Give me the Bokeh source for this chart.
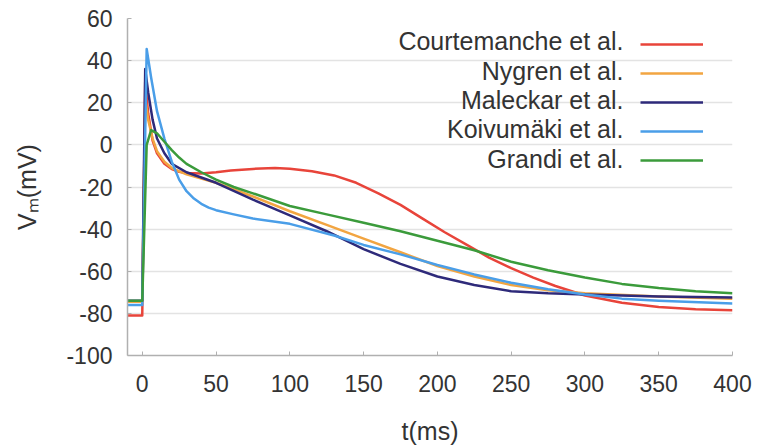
from bokeh.plotting import figure
from bokeh.models import Legend, LegendItem, Label, FixedTicker, Range1d, PrintfTickFormatter
from bokeh.embed import file_html
from bokeh.resources import INLINE

names = ["Courtemanche et al.", "Nygren et al.", "Maleckar et al.", "Koivumäki et al.", "Grandi et al."]
colors = ["#e8443a", "#f2a541", "#2e2a7a", "#4a9ee8", "#3b9b3b"]

t_court = [-10, 0, 2, 4, 7, 10, 15, 20, 25, 30, 40, 50, 60, 75, 90, 100, 115, 130, 145, 160, 175, 190, 205, 220, 235, 250, 265, 280, 300, 325, 350, 375, 400]
v_court = [-81, -81, 30, 15, 2, -4, -9, -11.5, -12.8, -13.4, -13.6, -13, -12.2, -11.4, -11, -11.3, -12.5, -14.5, -18, -23, -28.5, -35, -41.5, -47.5, -53.5, -58.5, -63, -67, -71.5, -75, -77, -78, -78.5]

t_nyg = [-10, 0, 2, 4, 7, 10, 15, 20, 30, 40, 50, 75, 100, 125, 150, 175, 200, 225, 250, 275, 300, 350, 400]
v_nyg = [-74.5, -74.5, 22, 12, 3, -3, -8, -11, -14, -16, -18, -24.5, -31.5, -38, -44.5, -51, -57.5, -62.5, -66.5, -69, -70.5, -72, -73]

t_mal = [-10, 0, 2, 4, 7, 10, 15, 20, 30, 40, 50, 75, 100, 125, 150, 175, 200, 225, 250, 275, 300, 350, 400]
v_mal = [-74, -74, 36, 25, 12, 3, -4, -9, -13, -15.5, -18, -26, -33.5, -41, -49.5, -56.5, -62.5, -66.5, -69.5, -70.5, -71, -72, -72.5]

t_koi = [-10, 0, 3, 6, 10, 15, 20, 25, 30, 35, 40, 45, 50, 62, 75, 100, 130, 150, 175, 200, 225, 250, 275, 300, 325, 350, 400]
v_koi = [-76, -76, 45.5, 32, 16, 3, -8, -16.5, -22, -25.5, -28, -29.8, -31, -33, -35, -37.5, -43, -47.5, -52, -57, -61.5, -65.5, -68.5, -71, -73, -74, -75.3]

t_gra = [-10, 0, 3, 6, 10, 15, 20, 25, 30, 40, 50, 62, 75, 100, 125, 150, 175, 200, 225, 250, 275, 300, 325, 350, 375, 400]
v_gra = [-74, -74, 0, 7, 5.5, 1.5, -2.5, -6, -9, -13, -16.5, -20, -23, -29, -33, -37, -41, -45.5, -50, -55.5, -59.5, -63, -66, -68, -69.5, -70.5]

series_t = [t_court, t_nyg, t_mal, t_koi, t_gra]
series_v = [v_court, v_nyg, v_mal, v_koi, v_gra]

x_ticks = [0, 50, 100, 150, 200, 250, 300, 350, 400]
y_ticks = [-100, -80, -60, -40, -20, 0, 20, 40, 60]

FONT = "Liberation Sans"

p = figure(width=759, height=447, output_backend="svg", toolbar_location=None,
           x_range=Range1d(-10, 400), y_range=Range1d(-100, 60),
           min_border_left=127, min_border_right=27, min_border_top=18, min_border_bottom=92)
p.outline_line_color = None
p.background_fill_color = "white"
p.border_fill_color = "white"

p.xgrid.grid_line_color = None
p.ygrid.grid_line_color = "#e3e3e3"
p.ygrid.grid_line_width = 1.5

for ax in (p.xaxis[0], p.yaxis[0]):
    ax.axis_line_color = "#b0b0b0"
    ax.axis_line_width = 1.5
    ax.major_tick_line_color = "#b0b0b0"
    ax.major_tick_in = 4
    ax.major_tick_out = 0
    ax.minor_tick_line_color = None
    ax.major_label_text_font = FONT
    ax.major_label_text_font_size = "23px"
    ax.major_label_text_color = "#333333"
    ax.axis_label_text_font = FONT
    ax.axis_label_text_font_size = "25px"
    ax.axis_label_text_font_style = "normal"
    ax.axis_label_text_color = "#333333"

p.xaxis.ticker = FixedTicker(ticks=x_ticks)
p.yaxis.ticker = FixedTicker(ticks=y_ticks)
p.yaxis.formatter = PrintfTickFormatter(format="%d")
p.xaxis.formatter = PrintfTickFormatter(format="%d")
p.xaxis.major_label_standoff = 19
p.yaxis.major_label_standoff = 15
p.xaxis.axis_label = "t(ms)"
p.yaxis.axis_label = "Vₘ(mV)"
p.xaxis.axis_label_standoff = 22
p.yaxis.axis_label_standoff = 22

renderers = []
for t, v, c in zip(series_t, series_v, colors):
    r = p.line(t, v, line_color=c, line_width=2.5, line_join="round")
    renderers.append(r)

items = [LegendItem(label=" ", renderers=[r]) for r in renderers]
legend = Legend(items=items, location=(513, 185), orientation="vertical",
                glyph_width=63, glyph_height=20, label_height=20, label_width=0,
                label_standoff=0, label_text_font_size="1px", spacing=9,
                padding=0, margin=0, border_line_color=None, background_fill_alpha=0)
p.add_layout(legend, "center")

row_y = [315, 285, 256, 227, 197]
for name, yy in zip(names, row_y):
    p.add_layout(Label(x=496, y=yy, x_units="screen", y_units="screen", text=name,
                       text_align="right", text_baseline="middle", text_font=FONT,
                       text_font_size="25px", text_color="#333333"))

open("out.html", "w").write(file_html(p, INLINE))
